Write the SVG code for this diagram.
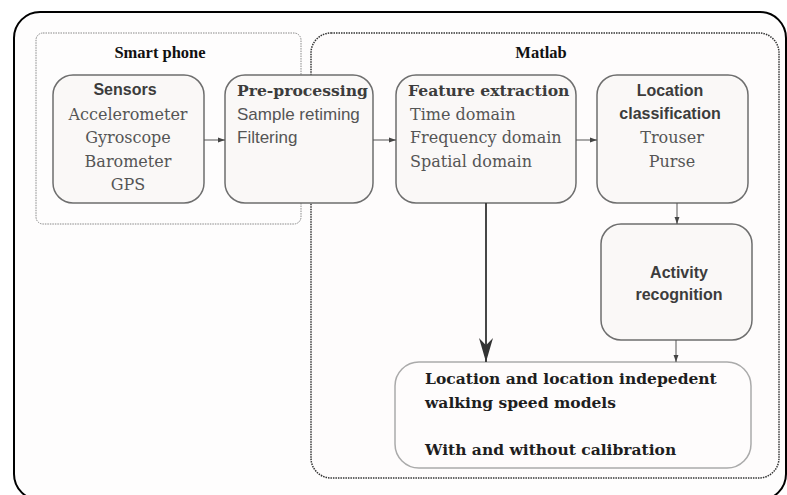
<svg xmlns="http://www.w3.org/2000/svg" width="787" height="495" viewBox="0 0 787 495">
<defs>
<style>
.box{fill:#faf8f7;stroke:#6e6e6e;stroke-width:1.5}
.sb{font-family:"Liberation Sans",Arial,sans-serif;font-weight:bold;font-size:16px;fill:#3c3c3c}
.sr{font-family:"DejaVu Serif","Liberation Serif",serif;font-size:16px;fill:#555}
.ss{font-family:"Liberation Sans",Arial,sans-serif;font-size:17px;fill:#555}
.srb{font-family:"DejaVu Serif","Liberation Serif",serif;font-weight:bold;font-size:15.6px;fill:#3c3c3c}
.grp{font-family:"Liberation Serif","Times New Roman",serif;font-weight:bold;font-size:16.5px;fill:#111}
.big{font-family:"DejaVu Serif","Liberation Serif",serif;font-weight:bold;font-size:15.5px;fill:#1e1e1e}
.c{stroke:#555;stroke-width:1;fill:none}
</style>
<marker id="ah" viewBox="0 0 10 10" refX="10" refY="5" markerWidth="7" markerHeight="7" markerUnits="userSpaceOnUse" orient="auto"><path d="M0,1.5 L10,5 L0,8.5 z" fill="#444"/></marker>
<marker id="ahb" viewBox="0 0 10 10" refX="10" refY="5" markerWidth="24" markerHeight="14" markerUnits="userSpaceOnUse" orient="auto" preserveAspectRatio="none"><path d="M0,0 L10,5 L0,10 L3,5 z" fill="#333"/></marker>
</defs>
<rect width="787" height="495" fill="#fff"/>
<g id="frame"><rect x="14" y="12" width="772" height="488" rx="26" fill="#fefdfd" stroke="#000" stroke-width="2"/></g>
<g id="smartphone"><rect x="36" y="33" width="265" height="191" rx="7" fill="none" stroke="#888" stroke-width="1" stroke-dasharray="1.5,1"/>
<text class="grp" x="160" y="58" text-anchor="middle">Smart phone</text></g>
<g id="matlab"><rect x="311" y="33" width="468" height="445" rx="20" fill="#fdfbfc" fill-opacity="0.6" stroke="#333" stroke-width="1.5" stroke-dasharray="1.5,1"/>
<text class="grp" x="541" y="58" text-anchor="middle">Matlab</text></g>
<g id="sensors"><rect class="box" x="53" y="75" width="151" height="128" rx="20"/>
<text class="sb" x="125" y="95" text-anchor="middle">Sensors</text>
<text class="sr" x="128" y="120" text-anchor="middle">Accelerometer</text>
<text class="sr" x="128" y="143" text-anchor="middle">Gyroscope</text>
<text class="sr" x="128" y="167" text-anchor="middle">Barometer</text>
<text class="sr" x="128" y="190" text-anchor="middle">GPS</text></g>
<g id="preprocessing"><rect class="box" x="225" y="75" width="148" height="128" rx="20"/>
<text class="srb" x="237" y="96">Pre-processing</text>
<text class="ss" x="237" y="120">Sample retiming</text>
<text class="ss" x="237" y="143">Filtering</text></g>
<g id="feature"><rect class="box" x="396" y="75" width="180" height="128" rx="20"/>
<text class="srb" x="408" y="96">Feature extraction</text>
<text class="sr" x="410" y="120">Time domain</text>
<text class="sr" x="410" y="143">Frequency domain</text>
<text class="sr" x="410" y="167">Spatial domain</text></g>
<g id="location"><rect class="box" x="597" y="75" width="151" height="128" rx="20"/>
<text class="sb" x="670" y="96" text-anchor="middle">Location</text>
<text class="sb" x="670" y="119" text-anchor="middle">classification</text>
<text class="sr" x="672" y="143" text-anchor="middle">Trouser</text>
<text class="sr" x="672" y="167" text-anchor="middle">Purse</text></g>
<g id="activity"><rect class="box" x="601" y="224" width="151" height="116" rx="20"/>
<text class="sb" x="679" y="278" text-anchor="middle">Activity</text>
<text class="sb" x="679" y="300" text-anchor="middle">recognition</text></g>
<g id="models"><rect x="395" y="362" width="356" height="106" rx="24" fill="#fefcfc" stroke="#aaa" stroke-width="1.5"/>
<text class="big" x="425" y="384">Location and location indepedent</text>
<text class="big" x="425" y="408">walking speed models</text>
<text class="big" x="425" y="455">With and without calibration</text></g>
<g id="connectors">
<line class="c" x1="204" y1="140" x2="225" y2="140" marker-end="url(#ah)"/>
<line class="c" x1="373" y1="140" x2="396" y2="140" marker-end="url(#ah)"/>
<line class="c" x1="576" y1="140" x2="597" y2="140" marker-end="url(#ah)"/>
<line class="c" x1="677" y1="203" x2="677" y2="224" marker-end="url(#ah)"/>
<line class="c" x1="676" y1="340" x2="676" y2="362" marker-end="url(#ah)"/>
<line x1="486" y1="203" x2="486" y2="362" stroke="#333" stroke-width="1.8" marker-end="url(#ahb)"/>
</g>
</svg>
